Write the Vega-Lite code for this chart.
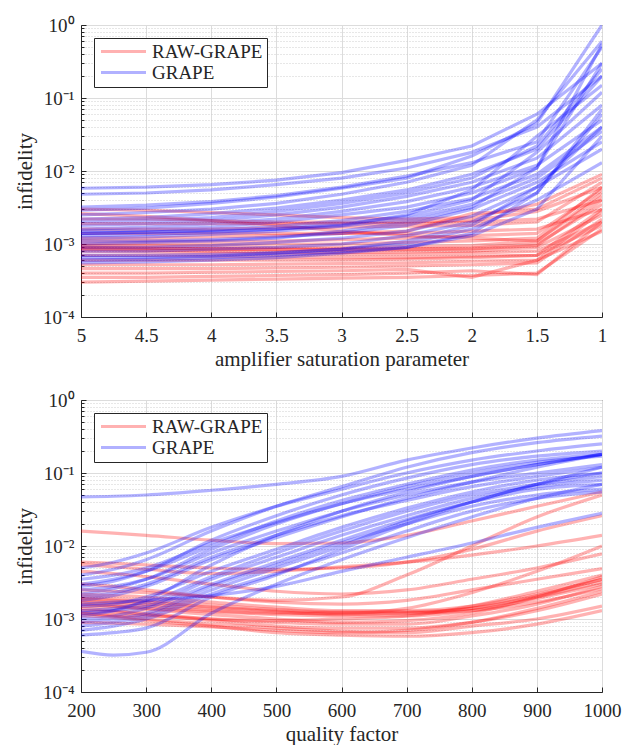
{
"$schema": "https://vega.github.io/schema/vega-lite/v6.json",
"background": "white",
"padding": {"left": 13, "top": 15, "right": 14, "bottom": 0},
"config": {
  "font": "Liberation Serif",
  "view": {"stroke": "#262626", "strokeWidth": 1},
  "axis": {"labelFont": "Liberation Serif", "labelFontSize": 19, "labelColor": "#262626", "titleFont": "Liberation Serif", "titleFontSize": 21, "titleFontWeight": "normal", "titleColor": "#262626", "domainColor": "#262626", "tickColor": "#262626", "gridOpacity": 1, "labelOverlap": false, "labelFlush": false},
  "legend": {"orient": "top-left", "offset": 13, "title": null, "labelFont": "Liberation Serif", "labelFontSize": 19, "labelColor": "#262626", "symbolType": "M-4.5,0H4.5", "symbolSize": 100, "symbolStrokeWidth": 3, "symbolOpacity": 0.3, "symbolOffset": 16, "labelOffset": 19, "strokeColor": "#262626", "fillColor": "white", "padding": 4, "rowPadding": 1, "cornerRadius": 0}
},
"datasets": {
"top": [
{"g":"R","s":1,"x":5,"y":3e-3},{"g":"R","s":1,"x":4.5,"y":2.9e-3},{"g":"R","s":1,"x":4,"y":2.7e-3},{"g":"R","s":1,"x":3.5,"y":2.5e-3},{"g":"R","s":1,"x":3,"y":2.3e-3},{"g":"R","s":1,"x":2.5,"y":2.2e-3},{"g":"R","s":1,"x":2,"y":2.3e-3},{"g":"R","s":1,"x":1.5,"y":3.5e-3},{"g":"R","s":1,"x":1,"y":9e-3},
{"g":"R","s":2,"x":5,"y":2.6e-3},{"g":"R","s":2,"x":4.5,"y":2.4e-3},{"g":"R","s":2,"x":4,"y":2.1e-3},{"g":"R","s":2,"x":3.5,"y":1.8e-3},{"g":"R","s":2,"x":3,"y":1.5e-3},{"g":"R","s":2,"x":2.5,"y":1.3e-3},{"g":"R","s":2,"x":2,"y":1.2e-3},{"g":"R","s":2,"x":1.5,"y":1.1e-3},{"g":"R","s":2,"x":1,"y":5e-3},
{"g":"R","s":3,"x":5,"y":2.2e-3},{"g":"R","s":3,"x":4.5,"y":2.2e-3},{"g":"R","s":3,"x":4,"y":2.1e-3},{"g":"R","s":3,"x":3.5,"y":2e-3},{"g":"R","s":3,"x":3,"y":2e-3},{"g":"R","s":3,"x":2.5,"y":2e-3},{"g":"R","s":3,"x":2,"y":2.1e-3},{"g":"R","s":3,"x":1.5,"y":2.8e-3},{"g":"R","s":3,"x":1,"y":6e-3},
{"g":"R","s":4,"x":5,"y":1.9e-3},{"g":"R","s":4,"x":4.5,"y":1.9e-3},{"g":"R","s":4,"x":4,"y":1.9e-3},{"g":"R","s":4,"x":3.5,"y":1.9e-3},{"g":"R","s":4,"x":3,"y":1.9e-3},{"g":"R","s":4,"x":2.5,"y":1.9e-3},{"g":"R","s":4,"x":2,"y":2e-3},{"g":"R","s":4,"x":1.5,"y":2.2e-3},{"g":"R","s":4,"x":1,"y":4e-3},
{"g":"R","s":5,"x":5,"y":1.6e-3},{"g":"R","s":5,"x":4.5,"y":1.6e-3},{"g":"R","s":5,"x":4,"y":1.6e-3},{"g":"R","s":5,"x":3.5,"y":1.65e-3},{"g":"R","s":5,"x":3,"y":1.7e-3},{"g":"R","s":5,"x":2.5,"y":1.75e-3},{"g":"R","s":5,"x":2,"y":1.8e-3},{"g":"R","s":5,"x":1.5,"y":2e-3},{"g":"R","s":5,"x":1,"y":7e-3},
{"g":"R","s":6,"x":5,"y":1.4e-3},{"g":"R","s":6,"x":4.5,"y":1.4e-3},{"g":"R","s":6,"x":4,"y":1.4e-3},{"g":"R","s":6,"x":3.5,"y":1.4e-3},{"g":"R","s":6,"x":3,"y":1.4e-3},{"g":"R","s":6,"x":2.5,"y":1.4e-3},{"g":"R","s":6,"x":2,"y":1.5e-3},{"g":"R","s":6,"x":1.5,"y":1.6e-3},{"g":"R","s":6,"x":1,"y":3e-3},
{"g":"R","s":7,"x":5,"y":1.1e-3},{"g":"R","s":7,"x":4.5,"y":1.1e-3},{"g":"R","s":7,"x":4,"y":1.1e-3},{"g":"R","s":7,"x":3.5,"y":1.1e-3},{"g":"R","s":7,"x":3,"y":1.15e-3},{"g":"R","s":7,"x":2.5,"y":1.2e-3},{"g":"R","s":7,"x":2,"y":1.3e-3},{"g":"R","s":7,"x":1.5,"y":1.4e-3},{"g":"R","s":7,"x":1,"y":5.5e-3},
{"g":"R","s":8,"x":5,"y":9.5e-4},{"g":"R","s":8,"x":4.5,"y":9.4e-4},{"g":"R","s":8,"x":4,"y":9.2e-4},{"g":"R","s":8,"x":3.5,"y":9e-4},{"g":"R","s":8,"x":3,"y":9e-4},{"g":"R","s":8,"x":2.5,"y":9.2e-4},{"g":"R","s":8,"x":2,"y":9.5e-4},{"g":"R","s":8,"x":1.5,"y":1.1e-3},{"g":"R","s":8,"x":1,"y":4.5e-3},
{"g":"R","s":9,"x":5,"y":9e-4},{"g":"R","s":9,"x":4.5,"y":8.8e-4},{"g":"R","s":9,"x":4,"y":8.6e-4},{"g":"R","s":9,"x":3.5,"y":8.5e-4},{"g":"R","s":9,"x":3,"y":8.5e-4},{"g":"R","s":9,"x":2.5,"y":8.6e-4},{"g":"R","s":9,"x":2,"y":8.8e-4},{"g":"R","s":9,"x":1.5,"y":1e-3},{"g":"R","s":9,"x":1,"y":3.5e-3},
{"g":"R","s":10,"x":5,"y":8.5e-4},{"g":"R","s":10,"x":4.5,"y":8.3e-4},{"g":"R","s":10,"x":4,"y":8e-4},{"g":"R","s":10,"x":3.5,"y":7.8e-4},{"g":"R","s":10,"x":3,"y":7.7e-4},{"g":"R","s":10,"x":2.5,"y":7.8e-4},{"g":"R","s":10,"x":2,"y":8e-4},{"g":"R","s":10,"x":1.5,"y":9e-4},{"g":"R","s":10,"x":1,"y":2.5e-3},
{"g":"R","s":11,"x":5,"y":8e-4},{"g":"R","s":11,"x":4.5,"y":7.8e-4},{"g":"R","s":11,"x":4,"y":7.5e-4},{"g":"R","s":11,"x":3.5,"y":7.3e-4},{"g":"R","s":11,"x":3,"y":7.2e-4},{"g":"R","s":11,"x":2.5,"y":7.2e-4},{"g":"R","s":11,"x":2,"y":7.5e-4},{"g":"R","s":11,"x":1.5,"y":8e-4},{"g":"R","s":11,"x":1,"y":2e-3},
{"g":"R","s":12,"x":5,"y":7e-4},{"g":"R","s":12,"x":4.5,"y":7e-4},{"g":"R","s":12,"x":4,"y":6.8e-4},{"g":"R","s":12,"x":3.5,"y":6.6e-4},{"g":"R","s":12,"x":3,"y":6.5e-4},{"g":"R","s":12,"x":2.5,"y":6.5e-4},{"g":"R","s":12,"x":2,"y":6.8e-4},{"g":"R","s":12,"x":1.5,"y":7e-4},{"g":"R","s":12,"x":1,"y":3e-3},
{"g":"R","s":13,"x":5,"y":6e-4},{"g":"R","s":13,"x":4.5,"y":6e-4},{"g":"R","s":13,"x":4,"y":6e-4},{"g":"R","s":13,"x":3.5,"y":6e-4},{"g":"R","s":13,"x":3,"y":6e-4},{"g":"R","s":13,"x":2.5,"y":6.2e-4},{"g":"R","s":13,"x":2,"y":6.5e-4},{"g":"R","s":13,"x":1.5,"y":7e-4},{"g":"R","s":13,"x":1,"y":1.8e-3},
{"g":"R","s":14,"x":5,"y":5.2e-4},{"g":"R","s":14,"x":4.5,"y":5.2e-4},{"g":"R","s":14,"x":4,"y":5.2e-4},{"g":"R","s":14,"x":3.5,"y":5.3e-4},{"g":"R","s":14,"x":3,"y":5.4e-4},{"g":"R","s":14,"x":2.5,"y":5.5e-4},{"g":"R","s":14,"x":2,"y":5.8e-4},{"g":"R","s":14,"x":1.5,"y":6e-4},{"g":"R","s":14,"x":1,"y":1.5e-3},
{"g":"R","s":15,"x":5,"y":4.6e-4},{"g":"R","s":15,"x":4.5,"y":4.6e-4},{"g":"R","s":15,"x":4,"y":4.6e-4},{"g":"R","s":15,"x":3.5,"y":4.7e-4},{"g":"R","s":15,"x":3,"y":4.8e-4},{"g":"R","s":15,"x":2.5,"y":5e-4},{"g":"R","s":15,"x":2,"y":5.2e-4},{"g":"R","s":15,"x":1.5,"y":5.5e-4},{"g":"R","s":15,"x":1,"y":2.2e-3},
{"g":"R","s":16,"x":5,"y":4e-4},{"g":"R","s":16,"x":4.5,"y":4e-4},{"g":"R","s":16,"x":4,"y":4.1e-4},{"g":"R","s":16,"x":3.5,"y":4.2e-4},{"g":"R","s":16,"x":3,"y":4.3e-4},{"g":"R","s":16,"x":2.5,"y":4.5e-4},{"g":"R","s":16,"x":2,"y":3.5e-4},{"g":"R","s":16,"x":1.5,"y":6e-4},{"g":"R","s":16,"x":1,"y":2.8e-3},
{"g":"R","s":17,"x":5,"y":3.5e-4},{"g":"R","s":17,"x":4.5,"y":3.5e-4},{"g":"R","s":17,"x":4,"y":3.6e-4},{"g":"R","s":17,"x":3.5,"y":3.7e-4},{"g":"R","s":17,"x":3,"y":3.8e-4},{"g":"R","s":17,"x":2.5,"y":4e-4},{"g":"R","s":17,"x":2,"y":4.3e-4},{"g":"R","s":17,"x":1.5,"y":3.8e-4},{"g":"R","s":17,"x":1,"y":2e-3},
{"g":"R","s":18,"x":5,"y":3e-4},{"g":"R","s":18,"x":4.5,"y":3.1e-4},{"g":"R","s":18,"x":4,"y":3.2e-4},{"g":"R","s":18,"x":3.5,"y":3.3e-4},{"g":"R","s":18,"x":3,"y":3.4e-4},{"g":"R","s":18,"x":2.5,"y":3.5e-4},{"g":"R","s":18,"x":2,"y":3.7e-4},{"g":"R","s":18,"x":1.5,"y":4e-4},{"g":"R","s":18,"x":1,"y":1.6e-3},
{"g":"R","s":19,"x":5,"y":1.2e-3},{"g":"R","s":19,"x":4.5,"y":1.2e-3},{"g":"R","s":19,"x":4,"y":1.25e-3},{"g":"R","s":19,"x":3.5,"y":1.3e-3},{"g":"R","s":19,"x":3,"y":1.4e-3},{"g":"R","s":19,"x":2.5,"y":1.5e-3},{"g":"R","s":19,"x":2,"y":2.6e-3},{"g":"R","s":19,"x":1.5,"y":3e-3},{"g":"R","s":19,"x":1,"y":8e-3},
{"g":"R","s":20,"x":5,"y":1e-3},{"g":"R","s":20,"x":4.5,"y":1e-3},{"g":"R","s":20,"x":4,"y":1e-3},{"g":"R","s":20,"x":3.5,"y":1e-3},{"g":"R","s":20,"x":3,"y":1e-3},{"g":"R","s":20,"x":2.5,"y":1.05e-3},{"g":"R","s":20,"x":2,"y":1.1e-3},{"g":"R","s":20,"x":1.5,"y":1.2e-3},{"g":"R","s":20,"x":1,"y":6e-3},
{"g":"R","s":21,"x":5,"y":8.8e-4},{"g":"R","s":21,"x":4.5,"y":8.7e-4},{"g":"R","s":21,"x":4,"y":8.5e-4},{"g":"R","s":21,"x":3.5,"y":8.4e-4},{"g":"R","s":21,"x":3,"y":8.3e-4},{"g":"R","s":21,"x":2.5,"y":8.4e-4},{"g":"R","s":21,"x":2,"y":8.6e-4},{"g":"R","s":21,"x":1.5,"y":9.5e-4},{"g":"R","s":21,"x":1,"y":4e-3},
{"g":"G","s":1,"x":5,"y":5.8e-3},{"g":"G","s":1,"x":4.5,"y":6e-3},{"g":"G","s":1,"x":4,"y":6.5e-3},{"g":"G","s":1,"x":3.5,"y":7.5e-3},{"g":"G","s":1,"x":3,"y":9.5e-3},{"g":"G","s":1,"x":2.5,"y":1.4e-2},{"g":"G","s":1,"x":2,"y":2.2e-2},{"g":"G","s":1,"x":1.5,"y":6e-2},{"g":"G","s":1,"x":1,"y":0.3},
{"g":"G","s":2,"x":5,"y":3.2e-3},{"g":"G","s":2,"x":4.5,"y":3.4e-3},{"g":"G","s":2,"x":4,"y":3.8e-3},{"g":"G","s":2,"x":3.5,"y":4.6e-3},{"g":"G","s":2,"x":3,"y":6e-3},{"g":"G","s":2,"x":2.5,"y":8.5e-3},{"g":"G","s":2,"x":2,"y":1.3e-2},{"g":"G","s":2,"x":1.5,"y":2.5e-2},{"g":"G","s":2,"x":1,"y":0.5},
{"g":"G","s":3,"x":5,"y":2.9e-3},{"g":"G","s":3,"x":4.5,"y":3.1e-3},{"g":"G","s":3,"x":4,"y":3.6e-3},{"g":"G","s":3,"x":3.5,"y":4.4e-3},{"g":"G","s":3,"x":3,"y":5.8e-3},{"g":"G","s":3,"x":2.5,"y":8e-3},{"g":"G","s":3,"x":2,"y":1.6e-2},{"g":"G","s":3,"x":1.5,"y":4.5e-2},{"g":"G","s":3,"x":1,"y":1},
{"g":"G","s":4,"x":5,"y":2.5e-3},{"g":"G","s":4,"x":4.5,"y":2.7e-3},{"g":"G","s":4,"x":4,"y":3e-3},{"g":"G","s":4,"x":3.5,"y":3.6e-3},{"g":"G","s":4,"x":3,"y":4.8e-3},{"g":"G","s":4,"x":2.5,"y":7e-3},{"g":"G","s":4,"x":2,"y":1.2e-2},{"g":"G","s":4,"x":1.5,"y":5e-2},{"g":"G","s":4,"x":1,"y":0.6},
{"g":"G","s":5,"x":5,"y":2.2e-3},{"g":"G","s":5,"x":4.5,"y":2.3e-3},{"g":"G","s":5,"x":4,"y":2.6e-3},{"g":"G","s":5,"x":3.5,"y":3.1e-3},{"g":"G","s":5,"x":3,"y":4e-3},{"g":"G","s":5,"x":2.5,"y":5.5e-3},{"g":"G","s":5,"x":2,"y":9e-3},{"g":"G","s":5,"x":1.5,"y":2e-2},{"g":"G","s":5,"x":1,"y":0.2},
{"g":"G","s":6,"x":5,"y":1.8e-3},{"g":"G","s":6,"x":4.5,"y":1.9e-3},{"g":"G","s":6,"x":4,"y":2.1e-3},{"g":"G","s":6,"x":3.5,"y":2.5e-3},{"g":"G","s":6,"x":3,"y":3.2e-3},{"g":"G","s":6,"x":2.5,"y":4.5e-3},{"g":"G","s":6,"x":2,"y":7e-3},{"g":"G","s":6,"x":1.5,"y":1.5e-2},{"g":"G","s":6,"x":1,"y":8e-2},
{"g":"G","s":7,"x":5,"y":1.6e-3},{"g":"G","s":7,"x":4.5,"y":1.7e-3},{"g":"G","s":7,"x":4,"y":1.9e-3},{"g":"G","s":7,"x":3.5,"y":2.2e-3},{"g":"G","s":7,"x":3,"y":2.8e-3},{"g":"G","s":7,"x":2.5,"y":3.8e-3},{"g":"G","s":7,"x":2,"y":6e-3},{"g":"G","s":7,"x":1.5,"y":1.2e-2},{"g":"G","s":7,"x":1,"y":5e-2},
{"g":"G","s":8,"x":5,"y":1.5e-3},{"g":"G","s":8,"x":4.5,"y":1.55e-3},{"g":"G","s":8,"x":4,"y":1.7e-3},{"g":"G","s":8,"x":3.5,"y":2e-3},{"g":"G","s":8,"x":3,"y":2.5e-3},{"g":"G","s":8,"x":2.5,"y":3.2e-3},{"g":"G","s":8,"x":2,"y":5e-3},{"g":"G","s":8,"x":1.5,"y":1.1e-2},{"g":"G","s":8,"x":1,"y":0.3},
{"g":"G","s":9,"x":5,"y":1.4e-3},{"g":"G","s":9,"x":4.5,"y":1.45e-3},{"g":"G","s":9,"x":4,"y":1.55e-3},{"g":"G","s":9,"x":3.5,"y":1.75e-3},{"g":"G","s":9,"x":3,"y":2.1e-3},{"g":"G","s":9,"x":2.5,"y":2.8e-3},{"g":"G","s":9,"x":2,"y":4.2e-3},{"g":"G","s":9,"x":1.5,"y":9e-3},{"g":"G","s":9,"x":1,"y":4e-2},
{"g":"G","s":10,"x":5,"y":1.3e-3},{"g":"G","s":10,"x":4.5,"y":1.35e-3},{"g":"G","s":10,"x":4,"y":1.45e-3},{"g":"G","s":10,"x":3.5,"y":1.6e-3},{"g":"G","s":10,"x":3,"y":1.9e-3},{"g":"G","s":10,"x":2.5,"y":2.4e-3},{"g":"G","s":10,"x":2,"y":4e-3},{"g":"G","s":10,"x":1.5,"y":1.8e-2},{"g":"G","s":10,"x":1,"y":0.12},
{"g":"G","s":11,"x":5,"y":1.2e-3},{"g":"G","s":11,"x":4.5,"y":1.25e-3},{"g":"G","s":11,"x":4,"y":1.35e-3},{"g":"G","s":11,"x":3.5,"y":1.5e-3},{"g":"G","s":11,"x":3,"y":1.75e-3},{"g":"G","s":11,"x":2.5,"y":2.2e-3},{"g":"G","s":11,"x":2,"y":3.5e-3},{"g":"G","s":11,"x":1.5,"y":8e-3},{"g":"G","s":11,"x":1,"y":3.5e-2},
{"g":"G","s":12,"x":5,"y":1.1e-3},{"g":"G","s":12,"x":4.5,"y":1.1e-3},{"g":"G","s":12,"x":4,"y":1.15e-3},{"g":"G","s":12,"x":3.5,"y":1.25e-3},{"g":"G","s":12,"x":3,"y":1.4e-3},{"g":"G","s":12,"x":2.5,"y":1.8e-3},{"g":"G","s":12,"x":2,"y":3e-3},{"g":"G","s":12,"x":1.5,"y":7e-3},{"g":"G","s":12,"x":1,"y":2.5e-2},
{"g":"G","s":13,"x":5,"y":9e-4},{"g":"G","s":13,"x":4.5,"y":9e-4},{"g":"G","s":13,"x":4,"y":9.5e-4},{"g":"G","s":13,"x":3.5,"y":1.05e-3},{"g":"G","s":13,"x":3,"y":1.2e-3},{"g":"G","s":13,"x":2.5,"y":1.5e-3},{"g":"G","s":13,"x":2,"y":2.4e-3},{"g":"G","s":13,"x":1.5,"y":6e-3},{"g":"G","s":13,"x":1,"y":2e-2},
{"g":"G","s":14,"x":5,"y":8e-4},{"g":"G","s":14,"x":4.5,"y":8e-4},{"g":"G","s":14,"x":4,"y":8.5e-4},{"g":"G","s":14,"x":3.5,"y":9e-4},{"g":"G","s":14,"x":3,"y":1e-3},{"g":"G","s":14,"x":2.5,"y":1.3e-3},{"g":"G","s":14,"x":2,"y":2e-3},{"g":"G","s":14,"x":1.5,"y":5e-3},{"g":"G","s":14,"x":1,"y":6e-2},
{"g":"G","s":15,"x":5,"y":7e-4},{"g":"G","s":15,"x":4.5,"y":7e-4},{"g":"G","s":15,"x":4,"y":7.2e-4},{"g":"G","s":15,"x":3.5,"y":7.6e-4},{"g":"G","s":15,"x":3,"y":8.5e-4},{"g":"G","s":15,"x":2.5,"y":1e-3},{"g":"G","s":15,"x":2,"y":1.6e-3},{"g":"G","s":15,"x":1.5,"y":4e-3},{"g":"G","s":15,"x":1,"y":1.3e-2},
{"g":"G","s":16,"x":5,"y":6.5e-4},{"g":"G","s":16,"x":4.5,"y":6.5e-4},{"g":"G","s":16,"x":4,"y":6.8e-4},{"g":"G","s":16,"x":3.5,"y":7.5e-4},{"g":"G","s":16,"x":3,"y":8.5e-4},{"g":"G","s":16,"x":2.5,"y":1.1e-3},{"g":"G","s":16,"x":2,"y":1.8e-3},{"g":"G","s":16,"x":1.5,"y":6e-3},{"g":"G","s":16,"x":1,"y":4e-2},
{"g":"G","s":17,"x":5,"y":6e-4},{"g":"G","s":17,"x":4.5,"y":6.2e-4},{"g":"G","s":17,"x":4,"y":6.5e-4},{"g":"G","s":17,"x":3.5,"y":7e-4},{"g":"G","s":17,"x":3,"y":7.8e-4},{"g":"G","s":17,"x":2.5,"y":9e-4},{"g":"G","s":17,"x":2,"y":1.3e-3},{"g":"G","s":17,"x":1.5,"y":3e-3},{"g":"G","s":17,"x":1,"y":3e-2},
{"g":"G","s":18,"x":5,"y":5.5e-4},{"g":"G","s":18,"x":4.5,"y":5.7e-4},{"g":"G","s":18,"x":4,"y":6e-4},{"g":"G","s":18,"x":3.5,"y":6.5e-4},{"g":"G","s":18,"x":3,"y":7.5e-4},{"g":"G","s":18,"x":2.5,"y":9e-4},{"g":"G","s":18,"x":2,"y":1.4e-3},{"g":"G","s":18,"x":1.5,"y":5e-3},{"g":"G","s":18,"x":1,"y":7e-2},
{"g":"G","s":19,"x":5,"y":2e-3},{"g":"G","s":19,"x":4.5,"y":2.1e-3},{"g":"G","s":19,"x":4,"y":2.3e-3},{"g":"G","s":19,"x":3.5,"y":2.8e-3},{"g":"G","s":19,"x":3,"y":3.6e-3},{"g":"G","s":19,"x":2.5,"y":5e-3},{"g":"G","s":19,"x":2,"y":8e-3},{"g":"G","s":19,"x":1.5,"y":2.2e-2},{"g":"G","s":19,"x":1,"y":0.25},
{"g":"G","s":20,"x":5,"y":1e-3},{"g":"G","s":20,"x":4.5,"y":1.05e-3},{"g":"G","s":20,"x":4,"y":1.1e-3},{"g":"G","s":20,"x":3.5,"y":1.2e-3},{"g":"G","s":20,"x":3,"y":1.5e-3},{"g":"G","s":20,"x":2.5,"y":2e-3},{"g":"G","s":20,"x":2,"y":3.2e-3},{"g":"G","s":20,"x":1.5,"y":1.1e-2},{"g":"G","s":20,"x":1,"y":0.55},
{"g":"G","s":21,"x":5,"y":1.4e-3},{"g":"G","s":21,"x":4.5,"y":1.45e-3},{"g":"G","s":21,"x":4,"y":1.5e-3},{"g":"G","s":21,"x":3.5,"y":1.6e-3},{"g":"G","s":21,"x":3,"y":1.8e-3},{"g":"G","s":21,"x":2.5,"y":2.5e-3},{"g":"G","s":21,"x":2,"y":5.5e-3},{"g":"G","s":21,"x":1.5,"y":3e-2},{"g":"G","s":21,"x":1,"y":0.15},
{"g":"G","s":22,"x":5,"y":4.8e-3},{"g":"G","s":22,"x":4.5,"y":5e-3},{"g":"G","s":22,"x":4,"y":5.5e-3},{"g":"G","s":22,"x":3.5,"y":6.5e-3},{"g":"G","s":22,"x":3,"y":8e-3},{"g":"G","s":22,"x":2.5,"y":1.1e-2},{"g":"G","s":22,"x":2,"y":1.8e-2},{"g":"G","s":22,"x":1.5,"y":4e-2},{"g":"G","s":22,"x":1,"y":0.2}
],
"bot": [
{"g":"R","s":1,"x":200,"y":1.6e-2},{"g":"R","s":1,"x":250,"y":1.5e-2},{"g":"R","s":1,"x":300,"y":1.4e-2},{"g":"R","s":1,"x":400,"y":1.2e-2},{"g":"R","s":1,"x":500,"y":1.08e-2},{"g":"R","s":1,"x":600,"y":1.1e-2},{"g":"R","s":1,"x":700,"y":1.4e-2},{"g":"R","s":1,"x":800,"y":2.2e-2},{"g":"R","s":1,"x":900,"y":3.5e-2},{"g":"R","s":1,"x":1000,"y":5.5e-2},
{"g":"R","s":2,"x":200,"y":6e-3},{"g":"R","s":2,"x":250,"y":5.8e-3},{"g":"R","s":2,"x":300,"y":5.5e-3},{"g":"R","s":2,"x":400,"y":5e-3},{"g":"R","s":2,"x":500,"y":4.8e-3},{"g":"R","s":2,"x":600,"y":5e-3},{"g":"R","s":2,"x":700,"y":6e-3},{"g":"R","s":2,"x":800,"y":9e-3},{"g":"R","s":2,"x":900,"y":1.6e-2},{"g":"R","s":2,"x":1000,"y":2.6e-2},
{"g":"R","s":3,"x":200,"y":5.5e-3},{"g":"R","s":3,"x":250,"y":5.2e-3},{"g":"R","s":3,"x":300,"y":4.8e-3},{"g":"R","s":3,"x":400,"y":4.2e-3},{"g":"R","s":3,"x":500,"y":4.5e-3},{"g":"R","s":3,"x":600,"y":5.2e-3},{"g":"R","s":3,"x":700,"y":6e-3},{"g":"R","s":3,"x":800,"y":7.5e-3},{"g":"R","s":3,"x":900,"y":1e-2},{"g":"R","s":3,"x":1000,"y":1.4e-2},
{"g":"R","s":4,"x":200,"y":2.5e-3},{"g":"R","s":4,"x":250,"y":2.4e-3},{"g":"R","s":4,"x":300,"y":2.3e-3},{"g":"R","s":4,"x":400,"y":2e-3},{"g":"R","s":4,"x":500,"y":1.8e-3},{"g":"R","s":4,"x":600,"y":2e-3},{"g":"R","s":4,"x":700,"y":4e-3},{"g":"R","s":4,"x":800,"y":1e-2},{"g":"R","s":4,"x":900,"y":2.5e-2},{"g":"R","s":4,"x":1000,"y":5e-2},
{"g":"R","s":5,"x":200,"y":4.5e-3},{"g":"R","s":5,"x":250,"y":4.2e-3},{"g":"R","s":5,"x":300,"y":3.8e-3},{"g":"R","s":5,"x":400,"y":3e-3},{"g":"R","s":5,"x":500,"y":2.4e-3},{"g":"R","s":5,"x":600,"y":2.2e-3},{"g":"R","s":5,"x":700,"y":2.5e-3},{"g":"R","s":5,"x":800,"y":3.5e-3},{"g":"R","s":5,"x":900,"y":5e-3},{"g":"R","s":5,"x":1000,"y":7.8e-3},
{"g":"R","s":6,"x":200,"y":3e-3},{"g":"R","s":6,"x":250,"y":2.8e-3},{"g":"R","s":6,"x":300,"y":2.5e-3},{"g":"R","s":6,"x":400,"y":2e-3},{"g":"R","s":6,"x":500,"y":1.7e-3},{"g":"R","s":6,"x":600,"y":1.6e-3},{"g":"R","s":6,"x":700,"y":1.8e-3},{"g":"R","s":6,"x":800,"y":2.5e-3},{"g":"R","s":6,"x":900,"y":3.5e-3},{"g":"R","s":6,"x":1000,"y":4.9e-3},
{"g":"R","s":7,"x":200,"y":2.2e-3},{"g":"R","s":7,"x":250,"y":2.1e-3},{"g":"R","s":7,"x":300,"y":2e-3},{"g":"R","s":7,"x":400,"y":1.7e-3},{"g":"R","s":7,"x":500,"y":1.45e-3},{"g":"R","s":7,"x":600,"y":1.3e-3},{"g":"R","s":7,"x":700,"y":1.3e-3},{"g":"R","s":7,"x":800,"y":1.5e-3},{"g":"R","s":7,"x":900,"y":2.2e-3},{"g":"R","s":7,"x":1000,"y":3.5e-3},
{"g":"R","s":8,"x":200,"y":2e-3},{"g":"R","s":8,"x":250,"y":1.9e-3},{"g":"R","s":8,"x":300,"y":1.8e-3},{"g":"R","s":8,"x":400,"y":1.55e-3},{"g":"R","s":8,"x":500,"y":1.35e-3},{"g":"R","s":8,"x":600,"y":1.25e-3},{"g":"R","s":8,"x":700,"y":1.25e-3},{"g":"R","s":8,"x":800,"y":1.4e-3},{"g":"R","s":8,"x":900,"y":2e-3},{"g":"R","s":8,"x":1000,"y":3.2e-3},
{"g":"R","s":9,"x":200,"y":1.8e-3},{"g":"R","s":9,"x":250,"y":1.7e-3},{"g":"R","s":9,"x":300,"y":1.6e-3},{"g":"R","s":9,"x":400,"y":1.4e-3},{"g":"R","s":9,"x":500,"y":1.25e-3},{"g":"R","s":9,"x":600,"y":1.15e-3},{"g":"R","s":9,"x":700,"y":1.2e-3},{"g":"R","s":9,"x":800,"y":1.4e-3},{"g":"R","s":9,"x":900,"y":2.1e-3},{"g":"R","s":9,"x":1000,"y":3.5e-3},
{"g":"R","s":10,"x":200,"y":1.6e-3},{"g":"R","s":10,"x":250,"y":1.5e-3},{"g":"R","s":10,"x":300,"y":1.4e-3},{"g":"R","s":10,"x":400,"y":1.25e-3},{"g":"R","s":10,"x":500,"y":1.15e-3},{"g":"R","s":10,"x":600,"y":1.1e-3},{"g":"R","s":10,"x":700,"y":1.1e-3},{"g":"R","s":10,"x":800,"y":1.3e-3},{"g":"R","s":10,"x":900,"y":1.9e-3},{"g":"R","s":10,"x":1000,"y":3e-3},
{"g":"R","s":11,"x":200,"y":1.5e-3},{"g":"R","s":11,"x":250,"y":1.45e-3},{"g":"R","s":11,"x":300,"y":1.35e-3},{"g":"R","s":11,"x":400,"y":1.15e-3},{"g":"R","s":11,"x":500,"y":1e-3},{"g":"R","s":11,"x":600,"y":9e-4},{"g":"R","s":11,"x":700,"y":9.5e-4},{"g":"R","s":11,"x":800,"y":1.2e-3},{"g":"R","s":11,"x":900,"y":2e-3},{"g":"R","s":11,"x":1000,"y":3.8e-3},
{"g":"R","s":12,"x":200,"y":1.4e-3},{"g":"R","s":12,"x":250,"y":1.3e-3},{"g":"R","s":12,"x":300,"y":1.2e-3},{"g":"R","s":12,"x":400,"y":1e-3},{"g":"R","s":12,"x":500,"y":9e-4},{"g":"R","s":12,"x":600,"y":8.5e-4},{"g":"R","s":12,"x":700,"y":8.5e-4},{"g":"R","s":12,"x":800,"y":1.1e-3},{"g":"R","s":12,"x":900,"y":1.6e-3},{"g":"R","s":12,"x":1000,"y":2.8e-3},
{"g":"R","s":13,"x":200,"y":1.3e-3},{"g":"R","s":13,"x":250,"y":1.25e-3},{"g":"R","s":13,"x":300,"y":1.15e-3},{"g":"R","s":13,"x":400,"y":9.5e-4},{"g":"R","s":13,"x":500,"y":8e-4},{"g":"R","s":13,"x":600,"y":7.5e-4},{"g":"R","s":13,"x":700,"y":7.5e-4},{"g":"R","s":13,"x":800,"y":9e-4},{"g":"R","s":13,"x":900,"y":1.3e-3},{"g":"R","s":13,"x":1000,"y":2.2e-3},
{"g":"R","s":14,"x":200,"y":1.2e-3},{"g":"R","s":14,"x":250,"y":1.1e-3},{"g":"R","s":14,"x":300,"y":1e-3},{"g":"R","s":14,"x":400,"y":8.5e-4},{"g":"R","s":14,"x":500,"y":7.5e-4},{"g":"R","s":14,"x":600,"y":6.8e-4},{"g":"R","s":14,"x":700,"y":6.5e-4},{"g":"R","s":14,"x":800,"y":8e-4},{"g":"R","s":14,"x":900,"y":1e-3},{"g":"R","s":14,"x":1000,"y":1.5e-3},
{"g":"R","s":15,"x":200,"y":1.1e-3},{"g":"R","s":15,"x":250,"y":1.05e-3},{"g":"R","s":15,"x":300,"y":9.5e-4},{"g":"R","s":15,"x":400,"y":8e-4},{"g":"R","s":15,"x":500,"y":6.5e-4},{"g":"R","s":15,"x":600,"y":6e-4},{"g":"R","s":15,"x":700,"y":5.8e-4},{"g":"R","s":15,"x":800,"y":6.5e-4},{"g":"R","s":15,"x":900,"y":8.5e-4},{"g":"R","s":15,"x":1000,"y":1.3e-3},
{"g":"R","s":16,"x":200,"y":1.7e-3},{"g":"R","s":16,"x":250,"y":1.6e-3},{"g":"R","s":16,"x":300,"y":1.5e-3},{"g":"R","s":16,"x":400,"y":1.3e-3},{"g":"R","s":16,"x":500,"y":1.2e-3},{"g":"R","s":16,"x":600,"y":1.2e-3},{"g":"R","s":16,"x":700,"y":1.4e-3},{"g":"R","s":16,"x":800,"y":2.3e-3},{"g":"R","s":16,"x":900,"y":4.5e-3},{"g":"R","s":16,"x":1000,"y":1e-2},
{"g":"R","s":17,"x":200,"y":9e-4},{"g":"R","s":17,"x":250,"y":8.8e-4},{"g":"R","s":17,"x":300,"y":8.5e-4},{"g":"R","s":17,"x":400,"y":7.8e-4},{"g":"R","s":17,"x":500,"y":7e-4},{"g":"R","s":17,"x":600,"y":6.5e-4},{"g":"R","s":17,"x":700,"y":7e-4},{"g":"R","s":17,"x":800,"y":9e-4},{"g":"R","s":17,"x":900,"y":1.4e-3},{"g":"R","s":17,"x":1000,"y":2.4e-3},
{"g":"R","s":18,"x":200,"y":1.9e-3},{"g":"R","s":18,"x":250,"y":1.8e-3},{"g":"R","s":18,"x":300,"y":1.7e-3},{"g":"R","s":18,"x":400,"y":1.45e-3},{"g":"R","s":18,"x":500,"y":1.3e-3},{"g":"R","s":18,"x":600,"y":1.2e-3},{"g":"R","s":18,"x":700,"y":1.2e-3},{"g":"R","s":18,"x":800,"y":1.3e-3},{"g":"R","s":18,"x":900,"y":1.7e-3},{"g":"R","s":18,"x":1000,"y":2.6e-3},
{"g":"R","s":19,"x":200,"y":1.2e-3},{"g":"R","s":19,"x":250,"y":1.15e-3},{"g":"R","s":19,"x":300,"y":1.1e-3},{"g":"R","s":19,"x":400,"y":1e-3},{"g":"R","s":19,"x":500,"y":9.5e-4},{"g":"R","s":19,"x":600,"y":1e-3},{"g":"R","s":19,"x":700,"y":1.1e-3},{"g":"R","s":19,"x":800,"y":1.5e-3},{"g":"R","s":19,"x":900,"y":2.4e-3},{"g":"R","s":19,"x":1000,"y":4e-3},
{"g":"G","s":1,"x":200,"y":4.7e-2},{"g":"G","s":1,"x":250,"y":4.8e-2},{"g":"G","s":1,"x":300,"y":5e-2},{"g":"G","s":1,"x":400,"y":5.8e-2},{"g":"G","s":1,"x":500,"y":7e-2},{"g":"G","s":1,"x":600,"y":9e-2},{"g":"G","s":1,"x":700,"y":0.15},{"g":"G","s":1,"x":800,"y":0.22},{"g":"G","s":1,"x":900,"y":0.3},{"g":"G","s":1,"x":1000,"y":0.38},
{"g":"G","s":2,"x":200,"y":5e-3},{"g":"G","s":2,"x":250,"y":6e-3},{"g":"G","s":2,"x":300,"y":8e-3},{"g":"G","s":2,"x":400,"y":1.8e-2},{"g":"G","s":2,"x":500,"y":3.5e-2},{"g":"G","s":2,"x":600,"y":6e-2},{"g":"G","s":2,"x":700,"y":0.1},{"g":"G","s":2,"x":800,"y":0.15},{"g":"G","s":2,"x":900,"y":0.2},{"g":"G","s":2,"x":1000,"y":0.25},
{"g":"G","s":3,"x":200,"y":4e-3},{"g":"G","s":3,"x":250,"y":4.8e-3},{"g":"G","s":3,"x":300,"y":6.5e-3},{"g":"G","s":3,"x":400,"y":1.6e-2},{"g":"G","s":3,"x":500,"y":3.5e-2},{"g":"G","s":3,"x":600,"y":6.5e-2},{"g":"G","s":3,"x":700,"y":0.12},{"g":"G","s":3,"x":800,"y":0.19},{"g":"G","s":3,"x":900,"y":0.26},{"g":"G","s":3,"x":1000,"y":0.32},
{"g":"G","s":4,"x":200,"y":3.5e-3},{"g":"G","s":4,"x":250,"y":4e-3},{"g":"G","s":4,"x":300,"y":5e-3},{"g":"G","s":4,"x":400,"y":1.1e-2},{"g":"G","s":4,"x":500,"y":2.1e-2},{"g":"G","s":4,"x":600,"y":3.8e-2},{"g":"G","s":4,"x":700,"y":6e-2},{"g":"G","s":4,"x":800,"y":9e-2},{"g":"G","s":4,"x":900,"y":0.13},{"g":"G","s":4,"x":1000,"y":0.18},
{"g":"G","s":5,"x":200,"y":3e-3},{"g":"G","s":5,"x":250,"y":3.5e-3},{"g":"G","s":5,"x":300,"y":4.5e-3},{"g":"G","s":5,"x":400,"y":1e-2},{"g":"G","s":5,"x":500,"y":2.2e-2},{"g":"G","s":5,"x":600,"y":4.2e-2},{"g":"G","s":5,"x":700,"y":7e-2},{"g":"G","s":5,"x":800,"y":0.11},{"g":"G","s":5,"x":900,"y":0.15},{"g":"G","s":5,"x":1000,"y":0.18},
{"g":"G","s":6,"x":200,"y":2.5e-3},{"g":"G","s":6,"x":250,"y":2.8e-3},{"g":"G","s":6,"x":300,"y":3.5e-3},{"g":"G","s":6,"x":400,"y":8e-3},{"g":"G","s":6,"x":500,"y":1.6e-2},{"g":"G","s":6,"x":600,"y":3e-2},{"g":"G","s":6,"x":700,"y":5e-2},{"g":"G","s":6,"x":800,"y":7.5e-2},{"g":"G","s":6,"x":900,"y":0.1},{"g":"G","s":6,"x":1000,"y":0.13},
{"g":"G","s":7,"x":200,"y":2e-3},{"g":"G","s":7,"x":250,"y":2.3e-3},{"g":"G","s":7,"x":300,"y":3e-3},{"g":"G","s":7,"x":400,"y":7e-3},{"g":"G","s":7,"x":500,"y":1.4e-2},{"g":"G","s":7,"x":600,"y":2.6e-2},{"g":"G","s":7,"x":700,"y":4.2e-2},{"g":"G","s":7,"x":800,"y":6.5e-2},{"g":"G","s":7,"x":900,"y":9e-2},{"g":"G","s":7,"x":1000,"y":0.12},
{"g":"G","s":8,"x":200,"y":1.8e-3},{"g":"G","s":8,"x":250,"y":2.1e-3},{"g":"G","s":8,"x":300,"y":2.8e-3},{"g":"G","s":8,"x":400,"y":6.5e-3},{"g":"G","s":8,"x":500,"y":1.3e-2},{"g":"G","s":8,"x":600,"y":2.5e-2},{"g":"G","s":8,"x":700,"y":4.5e-2},{"g":"G","s":8,"x":800,"y":7.5e-2},{"g":"G","s":8,"x":900,"y":0.12},{"g":"G","s":8,"x":1000,"y":0.18},
{"g":"G","s":9,"x":200,"y":1.5e-3},{"g":"G","s":9,"x":250,"y":1.6e-3},{"g":"G","s":9,"x":300,"y":2e-3},{"g":"G","s":9,"x":400,"y":4.5e-3},{"g":"G","s":9,"x":500,"y":9e-3},{"g":"G","s":9,"x":600,"y":1.8e-2},{"g":"G","s":9,"x":700,"y":3.3e-2},{"g":"G","s":9,"x":800,"y":5.5e-2},{"g":"G","s":9,"x":900,"y":8e-2},{"g":"G","s":9,"x":1000,"y":0.1},
{"g":"G","s":10,"x":200,"y":1.3e-3},{"g":"G","s":10,"x":250,"y":1.4e-3},{"g":"G","s":10,"x":300,"y":1.7e-3},{"g":"G","s":10,"x":400,"y":3.8e-3},{"g":"G","s":10,"x":500,"y":8e-3},{"g":"G","s":10,"x":600,"y":1.6e-2},{"g":"G","s":10,"x":700,"y":3e-2},{"g":"G","s":10,"x":800,"y":5e-2},{"g":"G","s":10,"x":900,"y":7e-2},{"g":"G","s":10,"x":1000,"y":9e-2},
{"g":"G","s":11,"x":200,"y":1.2e-3},{"g":"G","s":11,"x":250,"y":1.3e-3},{"g":"G","s":11,"x":300,"y":1.5e-3},{"g":"G","s":11,"x":400,"y":3.5e-3},{"g":"G","s":11,"x":500,"y":7e-3},{"g":"G","s":11,"x":600,"y":1.4e-2},{"g":"G","s":11,"x":700,"y":2.6e-2},{"g":"G","s":11,"x":800,"y":4.5e-2},{"g":"G","s":11,"x":900,"y":6.5e-2},{"g":"G","s":11,"x":1000,"y":8e-2},
{"g":"G","s":12,"x":200,"y":1e-3},{"g":"G","s":12,"x":250,"y":1.1e-3},{"g":"G","s":12,"x":300,"y":1.4e-3},{"g":"G","s":12,"x":400,"y":3e-3},{"g":"G","s":12,"x":500,"y":6e-3},{"g":"G","s":12,"x":600,"y":1.2e-2},{"g":"G","s":12,"x":700,"y":2.3e-2},{"g":"G","s":12,"x":800,"y":4e-2},{"g":"G","s":12,"x":900,"y":6e-2},{"g":"G","s":12,"x":1000,"y":7e-2},
{"g":"G","s":13,"x":200,"y":9e-4},{"g":"G","s":13,"x":250,"y":1e-3},{"g":"G","s":13,"x":300,"y":1.2e-3},{"g":"G","s":13,"x":400,"y":2.8e-3},{"g":"G","s":13,"x":500,"y":5.5e-3},{"g":"G","s":13,"x":600,"y":1.1e-2},{"g":"G","s":13,"x":700,"y":2e-2},{"g":"G","s":13,"x":800,"y":3.5e-2},{"g":"G","s":13,"x":900,"y":5e-2},{"g":"G","s":13,"x":1000,"y":6e-2},
{"g":"G","s":14,"x":200,"y":8e-4},{"g":"G","s":14,"x":250,"y":9e-4},{"g":"G","s":14,"x":300,"y":1.1e-3},{"g":"G","s":14,"x":400,"y":2.5e-3},{"g":"G","s":14,"x":500,"y":5e-3},{"g":"G","s":14,"x":600,"y":1e-2},{"g":"G","s":14,"x":700,"y":2.2e-2},{"g":"G","s":14,"x":800,"y":4e-2},{"g":"G","s":14,"x":900,"y":7e-2},{"g":"G","s":14,"x":1000,"y":0.1},
{"g":"G","s":15,"x":200,"y":7e-4},{"g":"G","s":15,"x":250,"y":8e-4},{"g":"G","s":15,"x":300,"y":1e-3},{"g":"G","s":15,"x":400,"y":2.2e-3},{"g":"G","s":15,"x":500,"y":4.2e-3},{"g":"G","s":15,"x":600,"y":8e-3},{"g":"G","s":15,"x":700,"y":1.6e-2},{"g":"G","s":15,"x":800,"y":3e-2},{"g":"G","s":15,"x":900,"y":4.5e-2},{"g":"G","s":15,"x":1000,"y":5.5e-2},
{"g":"G","s":16,"x":200,"y":6e-4},{"g":"G","s":16,"x":250,"y":6.5e-4},{"g":"G","s":16,"x":300,"y":7.5e-4},{"g":"G","s":16,"x":400,"y":2e-3},{"g":"G","s":16,"x":500,"y":4e-3},{"g":"G","s":16,"x":600,"y":9e-3},{"g":"G","s":16,"x":700,"y":2e-2},{"g":"G","s":16,"x":800,"y":4e-2},{"g":"G","s":16,"x":900,"y":7e-2},{"g":"G","s":16,"x":1000,"y":0.12},
{"g":"G","s":17,"x":200,"y":3.6e-4},{"g":"G","s":17,"x":250,"y":3.2e-4},{"g":"G","s":17,"x":300,"y":3.5e-4},{"g":"G","s":17,"x":400,"y":1.2e-3},{"g":"G","s":17,"x":500,"y":3e-3},{"g":"G","s":17,"x":600,"y":6.5e-3},{"g":"G","s":17,"x":700,"y":1.3e-2},{"g":"G","s":17,"x":800,"y":2.5e-2},{"g":"G","s":17,"x":900,"y":4.5e-2},{"g":"G","s":17,"x":1000,"y":7e-2},
{"g":"G","s":18,"x":200,"y":1.6e-3},{"g":"G","s":18,"x":250,"y":1.7e-3},{"g":"G","s":18,"x":300,"y":1.8e-3},{"g":"G","s":18,"x":400,"y":2.1e-3},{"g":"G","s":18,"x":500,"y":2.8e-3},{"g":"G","s":18,"x":600,"y":4.5e-3},{"g":"G","s":18,"x":700,"y":7e-3},{"g":"G","s":18,"x":800,"y":1.1e-2},{"g":"G","s":18,"x":900,"y":1.8e-2},{"g":"G","s":18,"x":1000,"y":2.8e-2},
{"g":"G","s":19,"x":200,"y":2.8e-3},{"g":"G","s":19,"x":250,"y":3.3e-3},{"g":"G","s":19,"x":300,"y":4.5e-3},{"g":"G","s":19,"x":400,"y":1.2e-2},{"g":"G","s":19,"x":500,"y":2.6e-2},{"g":"G","s":19,"x":600,"y":5e-2},{"g":"G","s":19,"x":700,"y":8.5e-2},{"g":"G","s":19,"x":800,"y":0.13},{"g":"G","s":19,"x":900,"y":0.17},{"g":"G","s":19,"x":1000,"y":0.2},
{"g":"G","s":20,"x":200,"y":1.1e-3},{"g":"G","s":20,"x":250,"y":1.3e-3},{"g":"G","s":20,"x":300,"y":1.8e-3},{"g":"G","s":20,"x":400,"y":5.5e-3},{"g":"G","s":20,"x":500,"y":1.4e-2},{"g":"G","s":20,"x":600,"y":3e-2},{"g":"G","s":20,"x":700,"y":5.5e-2},{"g":"G","s":20,"x":800,"y":9e-2},{"g":"G","s":20,"x":900,"y":0.13},{"g":"G","s":20,"x":1000,"y":0.18},
{"g":"G","s":21,"x":200,"y":2.2e-3},{"g":"G","s":21,"x":250,"y":2.6e-3},{"g":"G","s":21,"x":300,"y":3.5e-3},{"g":"G","s":21,"x":400,"y":9e-3},{"g":"G","s":21,"x":500,"y":2e-2},{"g":"G","s":21,"x":600,"y":3.8e-2},{"g":"G","s":21,"x":700,"y":6.5e-2},{"g":"G","s":21,"x":800,"y":0.1},{"g":"G","s":21,"x":900,"y":0.14},{"g":"G","s":21,"x":1000,"y":0.17}
]
},
"spacing": 20,
"resolve": {"legend": {"color": "independent"}, "scale": {"x": "independent", "y": "independent"}},
"vconcat": [
{
  "width": 521, "height": 292,
  "data": {"name": "top"},
  "mark": {"type": "line", "strokeWidth": 3.2, "strokeOpacity": 0.3, "clip": true},
  "encoding": {
    "x": {"field": "x", "type": "quantitative", "scale": {"domain": [1, 5], "reverse": true, "nice": false, "zero": false},
      "axis": {"title": "amplifier saturation parameter", "values": [5, 4.5, 4, 3.5, 3, 2.5, 2, 1.5, 1], "format": "~g", "grid": true, "gridColor": "#dcdcdc", "tickSize": -5, "labelPadding": 14, "titlePadding": 3}},
    "y": {"field": "y", "type": "quantitative", "scale": {"type": "log", "domain": [0.0001, 1], "nice": false},
      "axis": {"title": "infidelity", "titlePadding": 7, "labelPadding": 12,
        "values": [0.0001,0.0002,0.0003,0.0004,0.0005,0.0006,0.0007,0.0008,0.0009,0.001,0.002,0.003,0.004,0.005,0.006,0.007,0.008,0.009,0.01,0.02,0.03,0.04,0.05,0.06,0.07,0.08,0.09,0.1,0.2,0.3,0.4,0.5,0.6,0.7,0.8,0.9,1],
        "labelExpr": "datum.value == 1 ? '10⁰' : datum.value == 0.1 ? '10⁻¹' : datum.value == 0.01 ? '10⁻²' : datum.value == 0.001 ? '10⁻³' : datum.value == 0.0001 ? '10⁻⁴' : ''",
        "grid": true,
        "gridDash": {"condition": {"test": "datum.value == 1 || datum.value == 0.1 || datum.value == 0.01 || datum.value == 0.001 || datum.value == 0.0001", "value": []}, "value": [1, 2]},
        "gridColor": {"condition": {"test": "datum.value == 1 || datum.value == 0.1 || datum.value == 0.01 || datum.value == 0.001 || datum.value == 0.0001", "value": "#dcdcdc"}, "value": "#cfcfcf"},
        "tickSize": {"condition": {"test": "datum.value == 1 || datum.value == 0.1 || datum.value == 0.01 || datum.value == 0.001 || datum.value == 0.0001", "value": -5}, "value": -3}}},
    "color": {"field": "g", "type": "nominal", "scale": {"domain": ["R", "G"], "range": ["#ff0000", "#0000ff"]},
      "legend": {"labelExpr": "datum.label == 'R' ? 'RAW-GRAPE' : 'GRAPE'", "orient": "top-left", "offset": 13, "title": null}},
    "detail": {"field": "s", "type": "nominal"}
  }
},
{
  "width": 521, "height": 292,
  "data": {"name": "bot"},
  "mark": {"type": "line", "strokeWidth": 3.2, "strokeOpacity": 0.3, "clip": true, "interpolate": "monotone"},
  "encoding": {
    "x": {"field": "x", "type": "quantitative", "scale": {"domain": [200, 1000], "nice": false, "zero": false},
      "axis": {"title": "quality factor", "values": [200, 300, 400, 500, 600, 700, 800, 900, 1000], "format": "d", "grid": true, "gridColor": "#dcdcdc", "tickSize": -5, "labelPadding": 14, "titlePadding": 3}},
    "y": {"field": "y", "type": "quantitative", "scale": {"type": "log", "domain": [0.0001, 1], "nice": false},
      "axis": {"title": "infidelity", "titlePadding": 7, "labelPadding": 12,
        "values": [0.0001,0.0002,0.0003,0.0004,0.0005,0.0006,0.0007,0.0008,0.0009,0.001,0.002,0.003,0.004,0.005,0.006,0.007,0.008,0.009,0.01,0.02,0.03,0.04,0.05,0.06,0.07,0.08,0.09,0.1,0.2,0.3,0.4,0.5,0.6,0.7,0.8,0.9,1],
        "labelExpr": "datum.value == 1 ? '10⁰' : datum.value == 0.1 ? '10⁻¹' : datum.value == 0.01 ? '10⁻²' : datum.value == 0.001 ? '10⁻³' : datum.value == 0.0001 ? '10⁻⁴' : ''",
        "grid": true,
        "gridDash": {"condition": {"test": "datum.value == 1 || datum.value == 0.1 || datum.value == 0.01 || datum.value == 0.001 || datum.value == 0.0001", "value": []}, "value": [1, 2]},
        "gridColor": {"condition": {"test": "datum.value == 1 || datum.value == 0.1 || datum.value == 0.01 || datum.value == 0.001 || datum.value == 0.0001", "value": "#dcdcdc"}, "value": "#cfcfcf"},
        "tickSize": {"condition": {"test": "datum.value == 1 || datum.value == 0.1 || datum.value == 0.01 || datum.value == 0.001 || datum.value == 0.0001", "value": -5}, "value": -3}}},
    "color": {"field": "g", "type": "nominal", "scale": {"domain": ["R", "G"], "range": ["#ff0000", "#0000ff"]},
      "legend": {"labelExpr": "datum.label == 'R' ? 'RAW-GRAPE' : 'GRAPE'", "orient": "top-left", "offset": 13, "title": null}},
    "detail": {"field": "s", "type": "nominal"}
  }
}
]
}
